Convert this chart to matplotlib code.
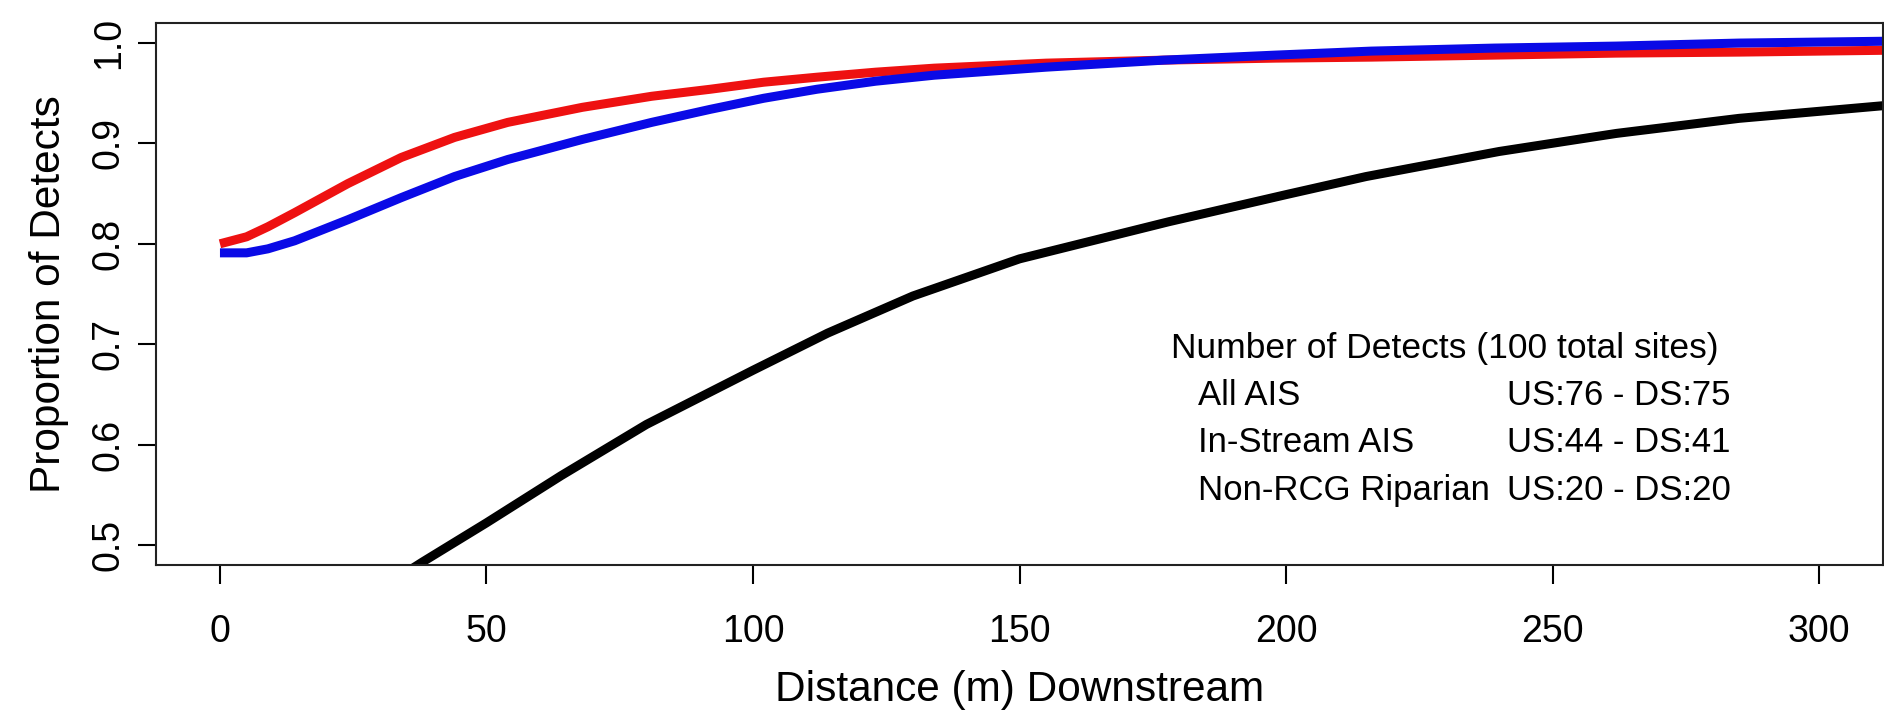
import matplotlib
matplotlib.use('Agg')
import matplotlib.pyplot as plt

plt.rcParams['font.family'] = ['Liberation Sans', 'DejaVu Sans']

# расстояние вниз по течению (м) и доли обнаружений
dist_ais = [0, 5, 9, 14, 24, 34, 44, 54, 68, 81, 92, 102, 112, 123, 134, 155, 177, 198, 216, 239, 262, 285, 315]
all_ais = [0.800, 0.807, 0.817, 0.831, 0.860, 0.886, 0.906, 0.921, 0.936, 0.947, 0.954,
           0.961, 0.966, 0.971, 0.975, 0.980, 0.983, 0.985, 0.986, 0.988, 0.990, 0.991, 0.993]
instream_ais = [0.791, 0.791, 0.795, 0.803, 0.824, 0.846, 0.867, 0.884, 0.904, 0.921, 0.934,
                0.945, 0.954, 0.962, 0.968, 0.976, 0.983, 0.988, 0.992, 0.995, 0.997, 1.000, 1.002]

dist_rip = [30, 38, 50, 64, 80, 100, 114, 130, 150, 178, 200, 215, 240, 262, 285, 315]
non_rcg = [0.456, 0.483, 0.522, 0.569, 0.620, 0.674, 0.711, 0.748, 0.785, 0.822,
           0.849, 0.867, 0.892, 0.910, 0.925, 0.939]

legend_title = 'Number of Detects (100 total sites)'
legend_names = ['All AIS', 'In-Stream AIS', 'Non-RCG Riparian']
legend_counts = ['US:76 - DS:75', 'US:44 - DS:41', 'US:20 - DS:20']

x_ticks = [0, 50, 100, 150, 200, 250, 300]
y_ticks = [0.5, 0.6, 0.7, 0.8, 0.9, 1.0]

fig = plt.figure(figsize=(18.84, 7.11), dpi=100)
ax = fig.add_axes([156 / 1884, 1 - 565 / 711, 1727 / 1884, 542 / 711])

ax.plot(dist_rip, non_rcg, color='black', linewidth=6.5, solid_capstyle='butt', solid_joinstyle='round')
ax.plot(dist_ais, all_ais, color='#ee1111', linewidth=6.5, solid_capstyle='butt', solid_joinstyle='round')
ax.plot(dist_ais, instream_ais, color='#0a0ae6', linewidth=6.5, solid_capstyle='butt', solid_joinstyle='round')

ax.set_xlim(-12, 312)
ax.set_ylim(0.48, 1.02)
ax.set_xticks(x_ticks)
ax.set_yticks(y_ticks)
ax.set_yticklabels([f'{v:.1f}' for v in y_ticks])

ax.tick_params(axis='x', length=14, width=1.5, pad=21, labelsize=27)
ax.tick_params(axis='y', length=13, width=1.5, pad=8, labelsize=27)
plt.setp(ax.get_yticklabels(), rotation=90, va='center')
for s in ax.spines.values():
    s.set_linewidth(1.5)
    s.set_color('#222222')

ax.set_xlabel('Distance (m) Downstream', fontsize=30.5, labelpad=15)
ax.set_ylabel('Proportion of Detects', fontsize=30.5, labelpad=16)

ax.text(0.5877, 0.400, legend_title, transform=ax.transAxes, fontsize=25.5, va='center', ha='left')
row_y = [0.313, 0.226, 0.138]
for name, cnt, yy in zip(legend_names, legend_counts, row_y):
    ax.text(0.6034, yy, name, transform=ax.transAxes, fontsize=25, va='center', ha='left')
    ax.text(0.7825, yy, cnt, transform=ax.transAxes, fontsize=25, va='center', ha='left')

fig.savefig('out.png', dpi=100)
